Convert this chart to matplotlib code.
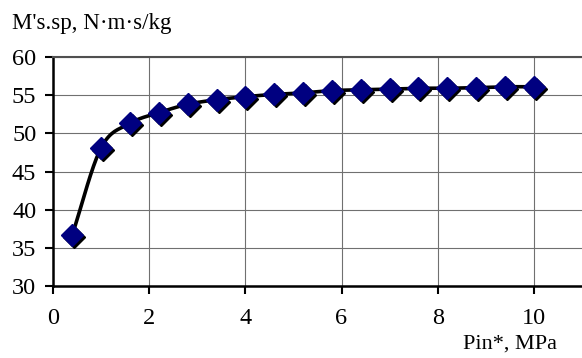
import numpy as np
import matplotlib
matplotlib.use("Agg")
import matplotlib.pyplot as plt
import matplotlib.transforms as mtransforms

# data
p_in = [0.4, 1.0, 1.6, 2.2, 2.8, 3.4, 4.0, 4.6, 5.2, 5.8, 6.4, 7.0, 7.6, 8.2, 8.8, 9.4, 10.0]
m_sp = [36.7, 48.1, 51.3, 52.7, 53.8, 54.4, 54.8, 55.1, 55.3, 55.6, 55.7, 55.8, 55.9, 55.9, 56.0, 56.1, 56.1]
x_ticks = [0, 2, 4, 6, 8, 10]
y_ticks = [30, 35, 40, 45, 50, 55, 60]


def smooth_line(x, y, n=20):
    # catmull-rom through the points, like the "smoothed line" option in excel
    x = np.asarray(x, float)
    y = np.asarray(y, float)
    px = np.concatenate([[2 * x[0] - x[1]], x, [2 * x[-1] - x[-2]]])
    py = np.concatenate([[2 * y[0] - y[1]], y, [2 * y[-1] - y[-2]]])
    t = np.linspace(0, 1, n)[:, None]
    xs, ys = [], []
    for i in range(1, len(px) - 2):
        for arr, out in ((px, xs), (py, ys)):
            p0, p1, p2, p3 = arr[i - 1:i + 3]
            seg = 0.5 * ((2 * p1) + (-p0 + p2) * t + (2 * p0 - 5 * p1 + 4 * p2 - p3) * t ** 2
                         + (-p0 + 3 * p1 - 3 * p2 + p3) * t ** 3)
            out.append(seg.ravel())
    return np.concatenate(xs), np.concatenate(ys)


plt.rcParams['font.family'] = ['Liberation Serif', 'DejaVu Serif']

fig = plt.figure(figsize=(5.82, 3.58), dpi=100)
ax = fig.add_axes([53 / 582, 1 - 286 / 358, 529 / 582, 229 / 358])

sx, sy = smooth_line(p_in, m_sp)
ax.plot(sx, sy, color='black', lw=2.6, zorder=3)

# marker shadow, shifted down-right a little
shadow = mtransforms.offset_copy(ax.transData, fig=fig, x=2, y=-2, units='dots')
ax.plot(p_in, m_sp, ls='none', marker='D', ms=11.5, color='black', transform=shadow, zorder=4,
        clip_on=False)
ax.plot(p_in, m_sp, ls='none', marker='D', ms=11.5, mfc='#000080', mec='#000080', zorder=5,
        clip_on=False)

ax.set_xlim(0, 11)
ax.set_ylim(30, 60)
ax.set_xticks(x_ticks)
ax.set_yticks(y_ticks)
ax.grid(True, color='#707070', lw=0.8)
ax.set_axisbelow(True)

ax.spines['right'].set_visible(False)
ax.spines['top'].set_color('#505050')
ax.spines['top'].set_linewidth(1.5)
ax.spines['left'].set_linewidth(1.8)
ax.spines['bottom'].set_linewidth(1.8)
ax.tick_params(axis='both', direction='out', length=6, width=1.5, labelsize=17.5)
ax.tick_params(axis='x', pad=10)
ax.tick_params(axis='y', pad=6)

fig.text(12 / 582, 1 - 24 / 358, "M's.sp, N\u00b7m\u00b7s/kg", fontsize=16.5, va='center', ha='left')
fig.text(510 / 582, 1 - 344 / 358, "Pin*, MPa", fontsize=16, va='center', ha='center')

fig.savefig('out.png', dpi=100)
